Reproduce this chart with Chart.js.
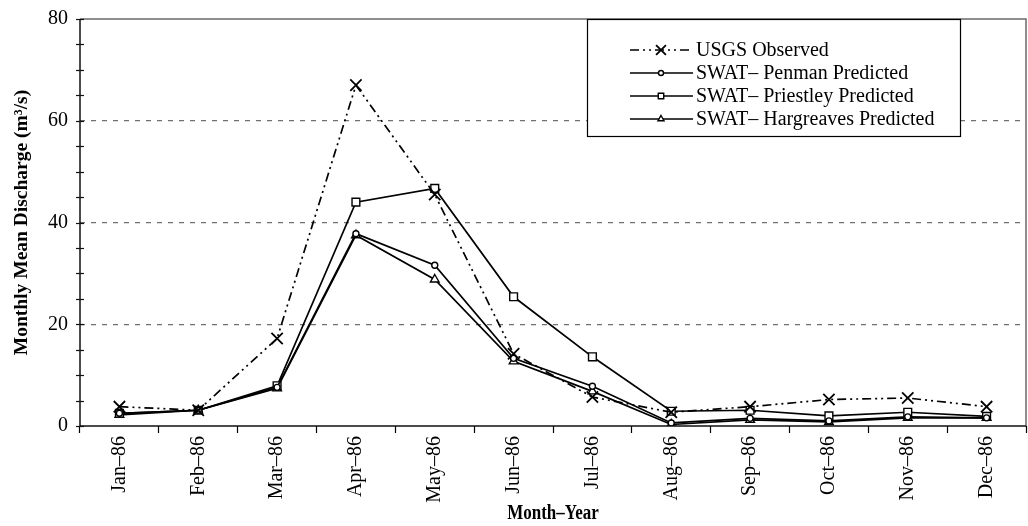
<!DOCTYPE html>
<html>
<head>
<meta charset="utf-8">
<script src="https://cdn.jsdelivr.net/npm/chart.js@4.4.1/dist/chart.umd.min.js"></script>
<style>
  html, body { margin: 0; padding: 0; background: #fff; }
  canvas { display: block; }
</style>
</head>
<body>
<canvas id="chart" width="1028" height="526"></canvas>
<script>
// Monthly mean discharge, 1986 (m3/s)
const months = ['Jan–86', 'Feb–86', 'Mar–86', 'Apr–86', 'May–86', 'Jun–86',
                'Jul–86', 'Aug–86', 'Sep–86', 'Oct–86', 'Nov–86', 'Dec–86'];
const usgsObserved = [3.8, 3.1, 17.2, 67.0, 45.5, 14.2, 5.7, 2.7, 3.8, 5.2, 5.5, 3.8];
const penmanPredicted = [2.5, 3.1, 7.6, 37.8, 31.6, 13.3, 7.8, 0.6, 1.5, 1.0, 1.8, 1.6];
const priestleyPredicted = [2.5, 3.1, 7.9, 44.0, 46.7, 25.4, 13.6, 2.9, 3.1, 2.0, 2.7, 1.9];
const hargreavesPredicted = [2.2, 3.1, 7.4, 37.5, 28.8, 12.7, 6.8, 0.3, 1.2, 0.8, 1.6, 1.6];
const seriesNames = ['USGS Observed', 'SWAT– Penman Predicted',
                     'SWAT– Priestley Predicted', 'SWAT– Hargreaves Predicted'];
const yMajorTicks = [0, 20, 40, 60, 80];
const yTitle = 'Monthly Mean Discharge (m³/s)';
const xTitle = 'Month–Year';

const SERIF = '"Liberation Serif", "Times New Roman", serif';

function lineSeries(label, data, pointStyle, radius, dash) {
  return {
    label, data,
    borderColor: '#000',
    backgroundColor: '#fff',
    borderWidth: 1.7,
    borderDash: dash || [],
    pointStyle,
    pointRadius: radius,
    pointHoverRadius: radius,
    pointBorderColor: '#000',
    pointBackgroundColor: '#fff',
    pointBorderWidth: pointStyle === 'crossRot' ? 1.8 : 1.4,
    tension: 0,
    fill: false
  };
}

const datasets = [
  lineSeries(seriesNames[0], usgsObserved, 'crossRot', 8, [9, 4, 2, 4, 2, 4]),
  lineSeries(seriesNames[1], penmanPredicted, 'circle', 3),
  lineSeries(seriesNames[2], priestleyPredicted, 'rect', 5.5),
  lineSeries(seriesNames[3], hargreavesPredicted, 'triangle', 5)
];

// Frame, crossing y ticks, axis titles and the boxed legend
const decorations = {
  id: 'decorations',
  afterDraw(chart) {
    const { ctx, chartArea: a, scales } = chart;
    const y = scales.y;
    ctx.save();

    // plot frame
    ctx.strokeStyle = '#6a6a6a';
    ctx.lineWidth = 1.5;
    ctx.beginPath();
    ctx.moveTo(a.left, a.top); ctx.lineTo(a.right, a.top); ctx.lineTo(a.right, a.bottom);
    ctx.stroke();
    ctx.strokeStyle = '#111';
    ctx.beginPath();
    ctx.moveTo(a.left, a.top); ctx.lineTo(a.left, a.bottom); ctx.lineTo(a.right, a.bottom);
    ctx.stroke();

    // y tick marks every 5 units, crossing the axis
    ctx.lineWidth = 1.2;
    for (let v = 0; v <= 80; v += 5) {
      const py = Math.round(y.getPixelForValue(v)) + 0.5;
      ctx.beginPath();
      ctx.moveTo(a.left - 4, py); ctx.lineTo(a.left + 4, py);
      ctx.stroke();
    }

    // axis titles
    ctx.fillStyle = '#000';
    ctx.textAlign = 'center';
    ctx.textBaseline = 'middle';
    ctx.font = 'bold 19.5px ' + SERIF;
    ctx.save();
    ctx.translate(22, (a.top + a.bottom) / 2);
    ctx.rotate(-Math.PI / 2);
    ctx.fillText(yTitle, 0, 0);
    ctx.restore();
    ctx.save();
    ctx.font = 'bold 20px ' + SERIF;
    ctx.translate((a.left + a.right) / 2, 514);
    ctx.scale(0.85, 1);
    ctx.fillText(xTitle, 0, 0);
    ctx.restore();

    // legend box
    const bx = 587, by = 19, bw = 373, bh = 117;
    ctx.fillStyle = '#fff';
    ctx.fillRect(bx, by, bw, bh);
    ctx.strokeStyle = '#000';
    ctx.lineWidth = 1.2;
    ctx.strokeRect(bx + 0.5, by + 0.5, bw, bh);

    const rowY = [50, 73, 96, 119];
    chart.data.datasets.forEach((ds, i) => {
      const ly = rowY[i];
      ctx.strokeStyle = '#000';
      ctx.lineWidth = 1.7;
      ctx.setLineDash(ds.borderDash || []);
      ctx.beginPath();
      ctx.moveTo(630, ly); ctx.lineTo(693, ly);
      ctx.stroke();
      ctx.setLineDash([]);
      ctx.fillStyle = '#fff';
      ctx.strokeStyle = '#000';
      ctx.lineWidth = ds.pointBorderWidth;
      const r = ds.pointStyle === 'crossRot' ? 7 : Math.max(2.5, ds.pointRadius * 0.7);
      Chart.helpers.drawPoint(ctx, {
        pointStyle: ds.pointStyle, radius: r,
        borderWidth: ds.pointBorderWidth, rotation: 0
      }, 661, ly);
      ctx.fillStyle = '#000';
      ctx.font = '20px ' + SERIF;
      ctx.textAlign = 'left';
      ctx.textBaseline = 'middle';
      ctx.fillText(ds.label, 696, ly + 1);
    });

    ctx.restore();
  }
};

new Chart(document.getElementById('chart'), {
  type: 'line',
  data: { labels: months, datasets },
  options: {
    responsive: false,
    animation: false,
    events: [],
    layout: { autoPadding: false, padding: { top: 19, right: 2, left: 0, bottom: 0 } },
    plugins: { legend: { display: false }, tooltip: { enabled: false }, title: { display: false } },
    scales: {
      x: {
        type: 'category',
        offset: true,
        grid: {
          offset: true, drawOnChartArea: false, drawTicks: true,
          tickLength: 7, tickColor: '#000', tickWidth: 1.2, color: '#000'
        },
        border: { display: false },
        ticks: {
          autoSkip: false, minRotation: 90, maxRotation: 90, padding: 3,
          color: '#000', font: { family: SERIF, size: 20 }
        },
        afterFit(s) { s.height = 100; s.paddingLeft = 0; s.paddingRight = 0; }
      },
      y: {
        min: 0, max: 80,
        grid: {
          drawTicks: false,
          lineWidth: 1.2,
          color: c => (c.tick && [20, 40, 60].includes(c.tick.value)) ? '#707070' : 'rgba(0,0,0,0)'
        },
        border: { display: false, dash: [5, 6] },
        ticks: {
          stepSize: 5, padding: 12, color: '#000',
          font: { family: SERIF, size: 20 },
          callback: v => yMajorTicks.includes(v) ? String(v) : ''
        },
        afterFit(s) { s.width = 80; s.paddingTop = 0; s.paddingBottom = 0; }
      }
    }
  },
  plugins: [decorations]
});
</script>
</body>
</html>
